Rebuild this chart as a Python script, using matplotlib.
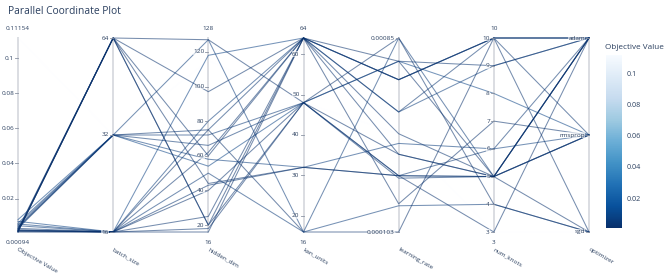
import numpy as np
import matplotlib
matplotlib.use("Agg")
import matplotlib.pyplot as plt
from matplotlib import cm, colors

plt.rcParams['font.family'] = ['Open Sans', 'DejaVu Sans']

# one entry per trial
objective = [0.0012, 0.0015, 0.0020, 0.0010, 0.0025, 0.0030, 0.0040, 0.0035,
             0.0060, 0.0050, 0.11154, 0.0080, 0.0070, 0.0055, 0.0045, 0.0030,
             0.0020, 0.0018, 0.0012, 0.00094, 0.0022, 0.0016, 0.0011]
batch_size = [64, 64, 64, 64, 64, 32, 32, 32, 32, 32, 32, 32,
              16, 16, 16, 16, 16, 16, 16, 16, 16, 16, 64]
hidden_dim = [127, 97, 60, 44, 20, 75, 72, 66, 58, 127, 115, 54,
              118, 80, 50, 43, 25, 18, 16, 75, 62, 40, 20]
kan_units = [48, 64, 64, 32, 48, 64, 48, 48, 32, 16, 48, 48,
             64, 64, 16, 32, 64, 48, 64, 16, 64, 48, 64]
learning_rate = [0.00085, 0.00054, 0.00024, 0.00019, 0.00066, 0.00038, 0.00019,
                 0.000185, 0.00027, 0.000137, 0.00030, 0.00066, 0.00054, 0.00038,
                 0.00085, 0.00019, 0.00054, 0.00024, 0.00014, 0.000103, 0.00030,
                 0.00019, 0.00066]
num_knots = [4, 10, 5, 5, 9, 10, 5, 5, 6, 4, 3, 8, 10, 9, 5, 6, 10, 5, 7, 10, 5, 3, 5]
optimizer = ['sgd', 'adam', 'rmsprop', 'adam', 'adam', 'rmsprop', 'adam', 'rmsprop',
             'rmsprop', 'sgd', 'sgd', 'rmsprop', 'adam', 'adam', 'adam', 'adam',
             'sgd', 'sgd', 'rmsprop', 'adam', 'rmsprop', 'adam', 'adam']

dim_names = ['Objective Value', 'batch_size', 'hidden_dim', 'kan_units',
             'learning_rate', 'num_knots', 'optimizer']
batch_cats = [16, 32, 64]
opt_cats = ['sgd', 'rmsprop', 'adam']
text_col = '#2a3f5f'

obj = np.array(objective)
lr_lo, lr_hi = min(learning_rate), max(learning_rate)


def lin(v, lo, hi):
    return (np.asarray(v, float) - lo) / (hi - lo)


def lr_scale(v):
    return (np.log10(v) - np.log10(lr_lo)) / (np.log10(lr_hi) - np.log10(lr_lo))


cols = [
    lin(obj, obj.min(), obj.max()),
    np.array([batch_cats.index(b) / 2 for b in batch_size]),
    lin(hidden_dim, 16, 128),
    lin(kan_units, 16, 64),
    lr_scale(np.array(learning_rate)),
    lin(num_knots, 3, 10),
    np.array([opt_cats.index(o) / 2 for o in optimizer]),
]
data = np.column_stack(cols)

# ticks: (values on 0..1, labels), and optional range labels (top, bottom)
ticks = [
    (lin([0.02, 0.04, 0.06, 0.08, 0.1], obj.min(), obj.max()), ['0.02', '0.04', '0.06', '0.08', '0.1']),
    ([0, 0.5, 1], ['16', '32', '64']),
    (lin([20, 40, 60, 80, 100, 120], 16, 128), ['20', '40', '60', '80', '100', '120']),
    (lin([20, 30, 40, 50, 60], 16, 64), ['20', '30', '40', '50', '60']),
    ([0, 1], ['0.000103', '0.00085']),
    (lin(range(3, 11), 3, 10), [str(k) for k in range(3, 11)]),
    ([0, 0.5, 1], ['sgd', 'rmsprop', 'adam']),
]
range_labels = [('0.11154', '0.00094'), None, ('128', '16'), ('64', '16'), None, ('10', '3'), None]

fig = plt.figure(figsize=(6.69, 2.73), dpi=100)
ax = fig.add_axes([18 / 669, 41 / 273, 571 / 669, 194 / 273])
ax.set_xlim(0, 6)
ax.set_ylim(0, 1)
ax.axis('off')

px_x = 6 / 571
px_y = 1 / 194

cmap = plt.get_cmap('Blues_r')
norm = colors.Normalize(obj.min(), obj.max())
xs = np.arange(len(dim_names))

for i in xs:
    ax.plot([i, i], [0, 1], color='#dadde2', lw=1.4, zorder=1, clip_on=False)

order = np.argsort(-obj)
for k in order:
    c = cmap(norm(obj[k]))
    a = 0.15 if obj[k] > 0.05 else 0.55
    ax.plot(xs, data[k], color=c, alpha=a, lw=0.75, zorder=2, clip_on=False)

for i in xs:
    tv, tl = ticks[i]
    for v, t in zip(tv, tl):
        ax.plot([i - 3 * px_x, i], [v, v], color='#8a93a3', lw=0.6, zorder=3, clip_on=False)
        ax.text(i - 4 * px_x, v, t, ha='right', va='center', fontsize=4.6,
                color=text_col, zorder=4,
                bbox=dict(boxstyle='square,pad=0.05', fc='white', ec='none', alpha=0.6))
    if range_labels[i]:
        top, bot = range_labels[i]
        ax.text(i, 1 + 9 * px_y, top, ha='center', va='center', fontsize=4.6, color=text_col)
        ax.text(i, -11 * px_y, bot, ha='center', va='center', fontsize=4.6, color=text_col)
    ax.text(i + 1 * px_x, -15 * px_y, dim_names[i], ha='left', va='top', rotation=-30,
            rotation_mode='anchor', fontsize=4.6, color=text_col)

fig.text(8 / 669, 1 - 11 / 273, 'Parallel Coordinate Plot', ha='left', va='center',
         fontsize=7.4, color=text_col)

cax = fig.add_axes([606 / 669, 45 / 273, 16 / 669, 173 / 273])
sm = cm.ScalarMappable(norm=norm, cmap=cmap)
cb = fig.colorbar(sm, cax=cax, ticks=[0.02, 0.04, 0.06, 0.08, 0.1])
cb.outline.set_visible(False)
cb.ax.tick_params(length=0, labelsize=5.2, colors=text_col, pad=3)
cb.ax.set_yticklabels(['0.02', '0.04', '0.06', '0.08', '0.1'])
fig.text(605 / 669, 1 - 47 / 273, 'Objective Value', ha='left', va='center',
         fontsize=5.9, color=text_col)

fig.savefig('out.png', dpi=100)
